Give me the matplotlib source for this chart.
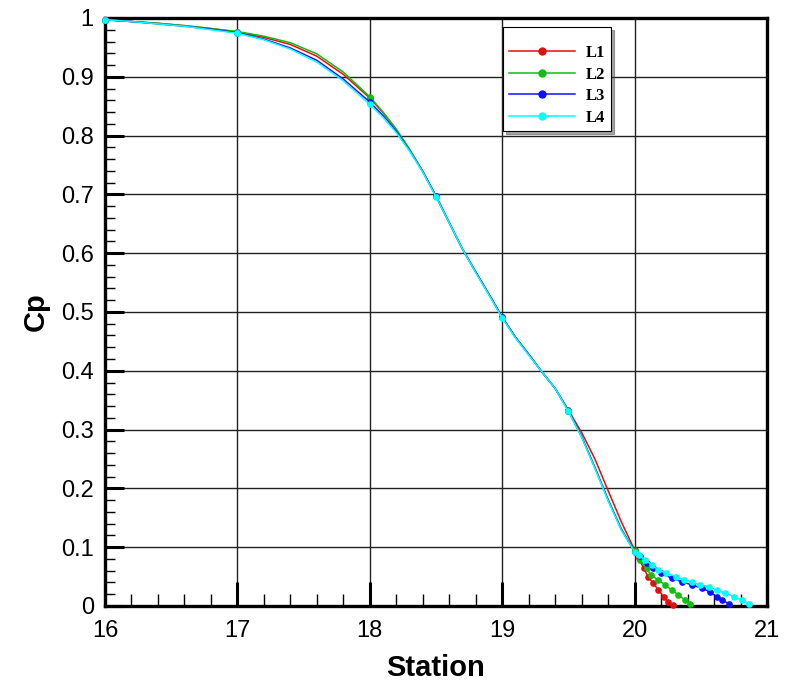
import matplotlib
matplotlib.use('Agg')
import matplotlib.pyplot as plt
from matplotlib.ticker import MultipleLocator

# main part of the curves (station 16 -> 20)
station = [16.0, 16.2, 16.4, 16.6, 16.8, 17.0, 17.2, 17.4, 17.6, 17.8,
           18.0, 18.1, 18.2, 18.3, 18.4, 18.5, 18.6, 18.7, 18.8, 18.9,
           19.0, 19.1, 19.2, 19.3, 19.4, 19.5, 19.6, 19.7, 19.8, 19.9, 20.0]

cp_l1 = [0.997, 0.994, 0.991, 0.987, 0.982, 0.976, 0.967, 0.955, 0.935, 0.904,
         0.864, 0.839, 0.810, 0.776, 0.739, 0.697, 0.652, 0.607, 0.568, 0.530,
         0.491, 0.457, 0.428, 0.398, 0.370, 0.333, 0.295, 0.250, 0.196, 0.143, 0.095]
cp_l2 = [0.997, 0.994, 0.991, 0.987, 0.982, 0.977, 0.969, 0.958, 0.939, 0.908,
         0.866, 0.840, 0.811, 0.777, 0.739, 0.697, 0.652, 0.607, 0.568, 0.530,
         0.491, 0.457, 0.428, 0.398, 0.370, 0.332, 0.288, 0.236, 0.181, 0.131, 0.093]
cp_l3 = [0.997, 0.994, 0.990, 0.986, 0.981, 0.975, 0.964, 0.949, 0.928, 0.896,
         0.857, 0.834, 0.807, 0.775, 0.739, 0.697, 0.652, 0.607, 0.568, 0.530,
         0.491, 0.457, 0.428, 0.398, 0.370, 0.332, 0.288, 0.235, 0.180, 0.130, 0.092]
cp_l4 = [0.997, 0.994, 0.990, 0.986, 0.980, 0.974, 0.963, 0.947, 0.925, 0.893,
         0.853, 0.831, 0.805, 0.774, 0.738, 0.696, 0.652, 0.607, 0.567, 0.529,
         0.490, 0.456, 0.427, 0.398, 0.370, 0.331, 0.287, 0.234, 0.179, 0.129, 0.092]

# tails beyond station 20 (densely sampled)
tail_x_l1 = [20.03, 20.07, 20.10, 20.14, 20.18, 20.22, 20.25, 20.29]
tail_y_l1 = [0.081, 0.064, 0.050, 0.039, 0.027, 0.016, 0.007, 0.002]
tail_x_l2 = [20.04, 20.09, 20.12, 20.18, 20.23, 20.28, 20.33, 20.38, 20.42]
tail_y_l2 = [0.078, 0.064, 0.053, 0.044, 0.036, 0.027, 0.019, 0.010, 0.004]
tail_x_l3 = [20.04, 20.09, 20.14, 20.20, 20.28, 20.36, 20.43, 20.51, 20.57,
             20.62, 20.66, 20.71]
tail_y_l3 = [0.085, 0.073, 0.064, 0.056, 0.047, 0.041, 0.036, 0.030, 0.024,
             0.016, 0.010, 0.004]
tail_x_l4 = [20.03, 20.08, 20.13, 20.18, 20.24, 20.31, 20.37, 20.43, 20.49,
             20.56, 20.62, 20.68, 20.75, 20.81, 20.86]
tail_y_l4 = [0.087, 0.078, 0.070, 0.061, 0.056, 0.050, 0.045, 0.041, 0.036,
             0.033, 0.027, 0.022, 0.016, 0.010, 0.004]

labels = ['L1', 'L2', 'L3', 'L4']
colors = ['#e01010', '#10c010', '#1010ff', '#00ffff']
marked_stations = [16.0, 17.0, 18.0, 18.5, 19.0, 19.5, 20.0]


def main():
    plt.rcParams['font.family'] = ['Liberation Sans', 'DejaVu Sans']
    fig = plt.figure(figsize=(7.88, 6.89), dpi=100)
    ax = fig.add_axes([0.1332, 0.1205, 0.8402, 0.8534])

    series = [(cp_l1, tail_x_l1, tail_y_l1),
              (cp_l2, tail_x_l2, tail_y_l2),
              (cp_l3, tail_x_l3, tail_y_l3),
              (cp_l4, tail_x_l4, tail_y_l4)]

    for (cp, tx, ty), lab, col in zip(series, labels, colors):
        xs = station + tx
        ys = cp + ty
        marks = [i for i, s in enumerate(station) if s in marked_stations]
        marks += list(range(len(station), len(xs)))
        ax.plot(xs, ys, color=col, lw=1.1, marker='o', ms=3.8,
                markevery=marks, label=lab, zorder=3, clip_on=False)

    ax.set_xlim(16, 21)
    ax.set_ylim(0, 1)
    ax.xaxis.set_major_locator(MultipleLocator(1))
    ax.xaxis.set_minor_locator(MultipleLocator(0.2))
    ax.yaxis.set_ticks([i / 10 for i in range(11)])
    ax.yaxis.set_minor_locator(MultipleLocator(0.02))
    ax.set_yticklabels(['0', '0.1', '0.2', '0.3', '0.4', '0.5', '0.6',
                        '0.7', '0.8', '0.9', '1'])

    ax.grid(True, which='major', color='#222222', lw=1.0)
    ax.tick_params(which='major', direction='in', width=2.2,
                   labelsize=17, pad=8)
    ax.tick_params(axis='x', which='major', length=17, pad=10)
    ax.tick_params(axis='y', which='major', length=14)
    ax.tick_params(which='minor', direction='in', length=9, width=1.0)
    ax.tick_params(axis='y', which='minor', length=7)
    for sp in ax.spines.values():
        sp.set_linewidth(2.4)

    ax.set_xlabel('Station', fontsize=21, fontweight='bold', labelpad=9)
    ax.set_ylabel('Cp', fontsize=21, fontweight='bold', labelpad=8)

    leg = ax.legend(loc='upper left', bbox_to_anchor=(0.601, 0.985),
                    prop={'family': 'Liberation Serif', 'weight': 'bold', 'size': 12},
                    title=' ', title_fontsize=6,
                    frameon=True, fancybox=False, shadow=True, edgecolor='black',
                    handlelength=4.0, numpoints=1, labelspacing=0.33,
                    borderpad=0.35, handletextpad=0.65, borderaxespad=0)
    leg.get_frame().set_linewidth(0.8)
    for h in leg.legend_handles:
        h.set_markersize(5)

    fig.savefig('out.png', dpi=100)


if __name__ == '__main__':
    main()
